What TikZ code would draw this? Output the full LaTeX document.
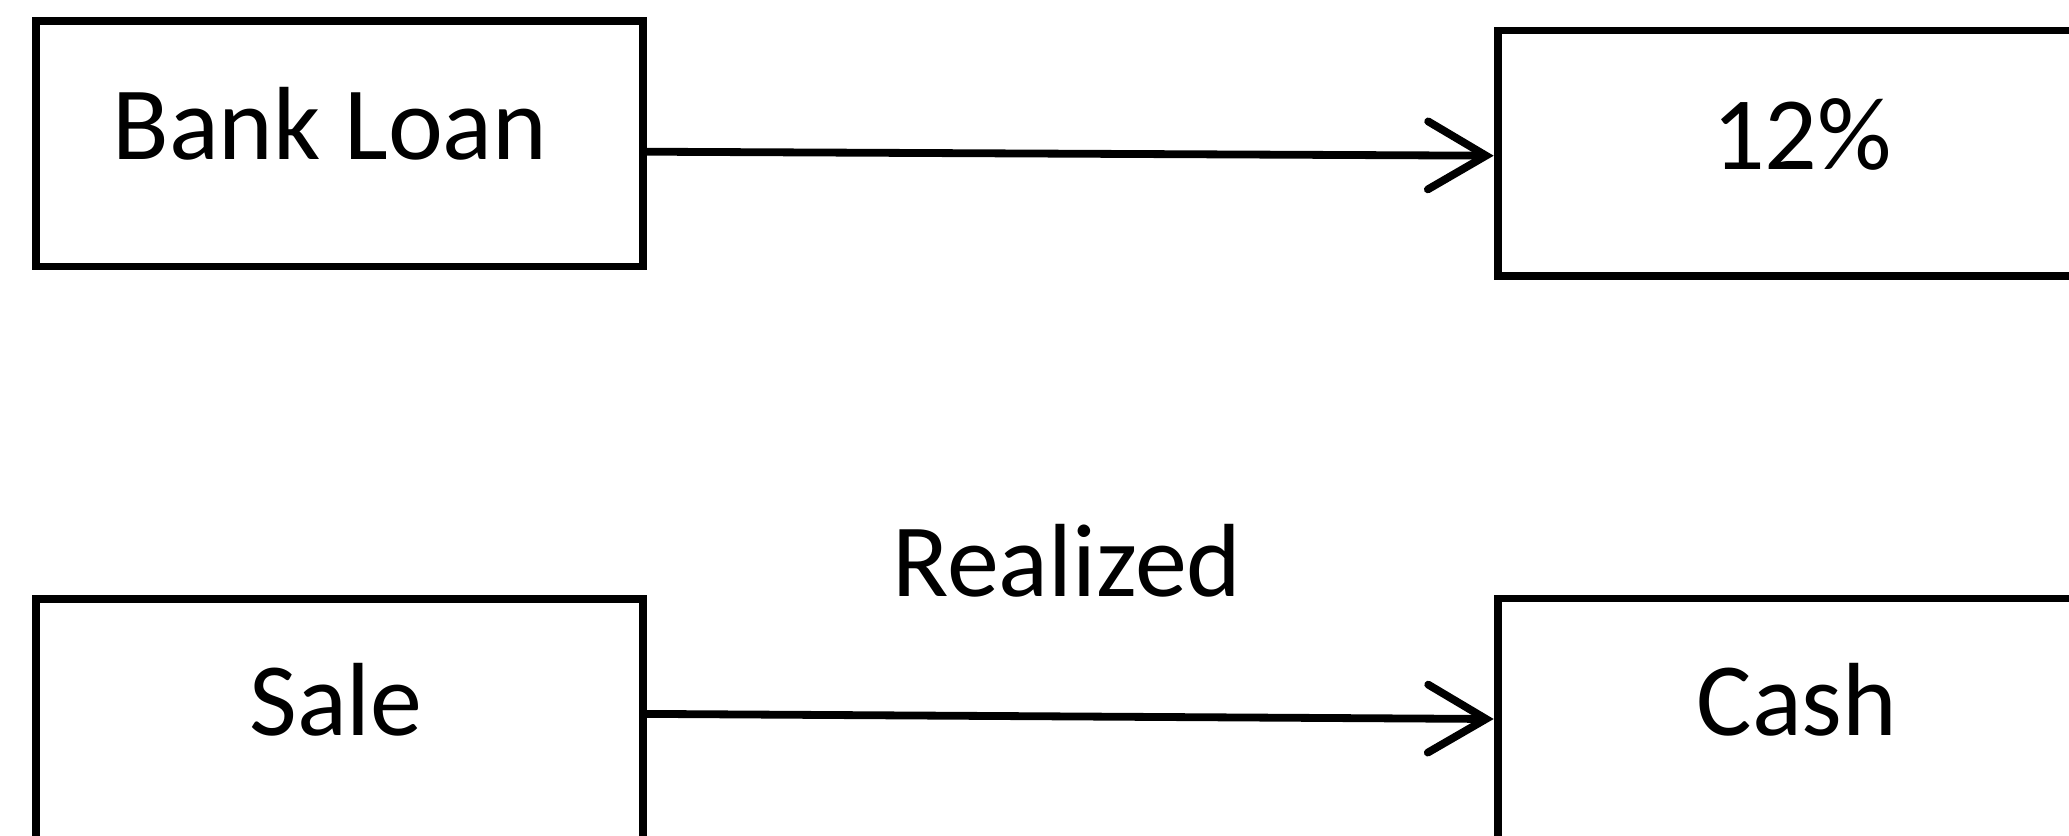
\documentclass[tikz,border=0pt]{standalone}
\usepackage{fontspec}
\setmainfont{Carlito}
\usetikzlibrary{arrows.meta,calc}
\begin{document}
\begin{tikzpicture}[x=0.5pt,y=-0.5pt,
  box/.style={draw=black, line width=3.9pt, fill=none, inner sep=0pt, rectangle},
  lbl/.style={inner sep=0pt, anchor=base, font=\fontsize{52}{60}\selectfont},
  conn/.style={line width=3.9pt, -{Straight Barb[length=29pt,width=34pt,line cap=round,line width=3.9pt]}}]
\useasboundingbox (0,0) rectangle (2069,836);
\fill[white] (0,0) rectangle (2069,836);
\node[box, minimum width=303.5pt, minimum height=122.75pt] (b1) at (339.1,143.75) {};
\node[box, minimum width=326.2pt, minimum height=122.75pt] (b2) at (1823.8,153.25) {};
\node[box, minimum width=303.5pt, minimum height=150.5pt] (b3) at (339.1,749.5) {};
\node[box, minimum width=326.2pt, minimum height=150.75pt] (b4) at (1823.8,749.25) {};
\node[lbl] (t1) at (330,159.7) {Bank Loan};
\node[lbl] (t2) at (1802,169) {12\%};
\node[lbl] (t3) at (336,735) {Sale};
\node[lbl] (t4) at (1797,735) {Cash};
\node[lbl] (t5) at (1067,596.5) {Realized};
\draw[conn] ($(b1.east)+(0,7.95)$) -- ($(b2.west)+(0,2.45)$);
\draw[conn] ($(b3.east)+(0,-35.6)$) -- ($(b4.west)+(0,-30.25)$);
\end{tikzpicture}
\end{document}
